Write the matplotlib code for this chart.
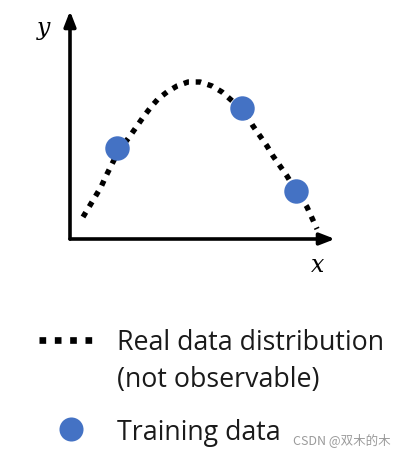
import numpy as np
import matplotlib.pyplot as plt
from matplotlib.lines import Line2D

# curve (x right of the y axis, y above the x axis)
curve_x = [1.3, 1.9, 2.5, 3.1, 3.6, 4.2, 4.8, 6.0, 6.7, 7.4, 8.1, 8.8, 9.7, 10.7,
           11.8, 13.0, 14.2, 15.2, 16.0, 16.8, 17.7, 18.3, 19.0, 19.7, 20.3,
           21.0, 21.7, 22.3, 23.0, 23.7, 24.7]
curve_y = [2.2, 3.2, 4.2, 5.2, 6.3, 7.5, 8.7, 10.3, 11.3, 12.3, 13.2, 14.0, 14.7, 15.3,
           15.7, 15.7, 15.3, 14.7, 14.0, 13.3, 12.3, 11.3, 10.3, 9.3, 8.3,
           7.3, 6.3, 5.3, 4.3, 3.2, 1.0]

train_x = [4.7, 17.2, 22.6]
train_y = [9.1, 13.1, 4.8]

legend_labels = ["Real data distribution", "(not observable)", "Training data"]
watermark = "CSDN @双木的木"

BLUE = "#4472C4"
W, H = 415, 460

fig = plt.figure(figsize=(W / 100, H / 100), dpi=100)

# main chart area, origin at pixel (70, 240)
ax = fig.add_axes([70 / W, (H - 240) / H, 265 / W, 228 / H])
ax.set_xlim(0, 26.5)
ax.set_ylim(0, 22.8)
ax.axis("off")

ax.plot(curve_x, curve_y, color="black", lw=3.9, linestyle=(0, (1, 1.25)),
        dash_capstyle="butt")
ax.scatter(train_x, train_y, s=310, color=BLUE, zorder=3, linewidths=0)

# axes with arrows
arrow = dict(arrowstyle="-|>,head_length=0.9,head_width=0.35", lw=2.6, color="black",
             shrinkA=0, shrinkB=0)
ax.annotate("", xy=(0, 1.0), xytext=(0, 0), xycoords="axes fraction", arrowprops=arrow)
ax.annotate("", xy=(1.0, 0), xytext=(0, 0), xycoords="axes fraction", arrowprops=arrow)

fig.text(44 / W, 1 - 28 / H, "y", family="DejaVu Serif", style="italic",
         fontsize=17, ha="center", va="center")
fig.text(318 / W, 1 - 266 / H, "x", family="DejaVu Serif", style="italic",
         fontsize=17, ha="center", va="center")

# legend, drawn by hand
lax = fig.add_axes([0, 0, 1, 1])
lax.set_xlim(0, W)
lax.set_ylim(H, 0)
lax.axis("off")
lax.add_line(Line2D([39, 93], [341, 341], color="black", lw=4.8,
                    linestyle=(0, (1, 1.3)), dash_capstyle="butt"))
lax.scatter([71], [430], s=300, color=BLUE, linewidths=0)

font = "Open Sans"
lax.text(117, 350, legend_labels[0], family=font, fontsize=19.3, va="baseline",
         color="#1a1a1a")
lax.text(117, 387, legend_labels[1], family=font, fontsize=19.3, va="baseline",
         color="#1a1a1a")
lax.text(117, 440, legend_labels[2], family=font, fontsize=19.3, va="baseline",
         color="#1a1a1a")

lax.text(293, 440, watermark, family=["Noto Sans CJK SC", "DejaVu Sans"],
         fontsize=9, color="#9a9a9a", va="center")

fig.savefig("out.png", dpi=100)
